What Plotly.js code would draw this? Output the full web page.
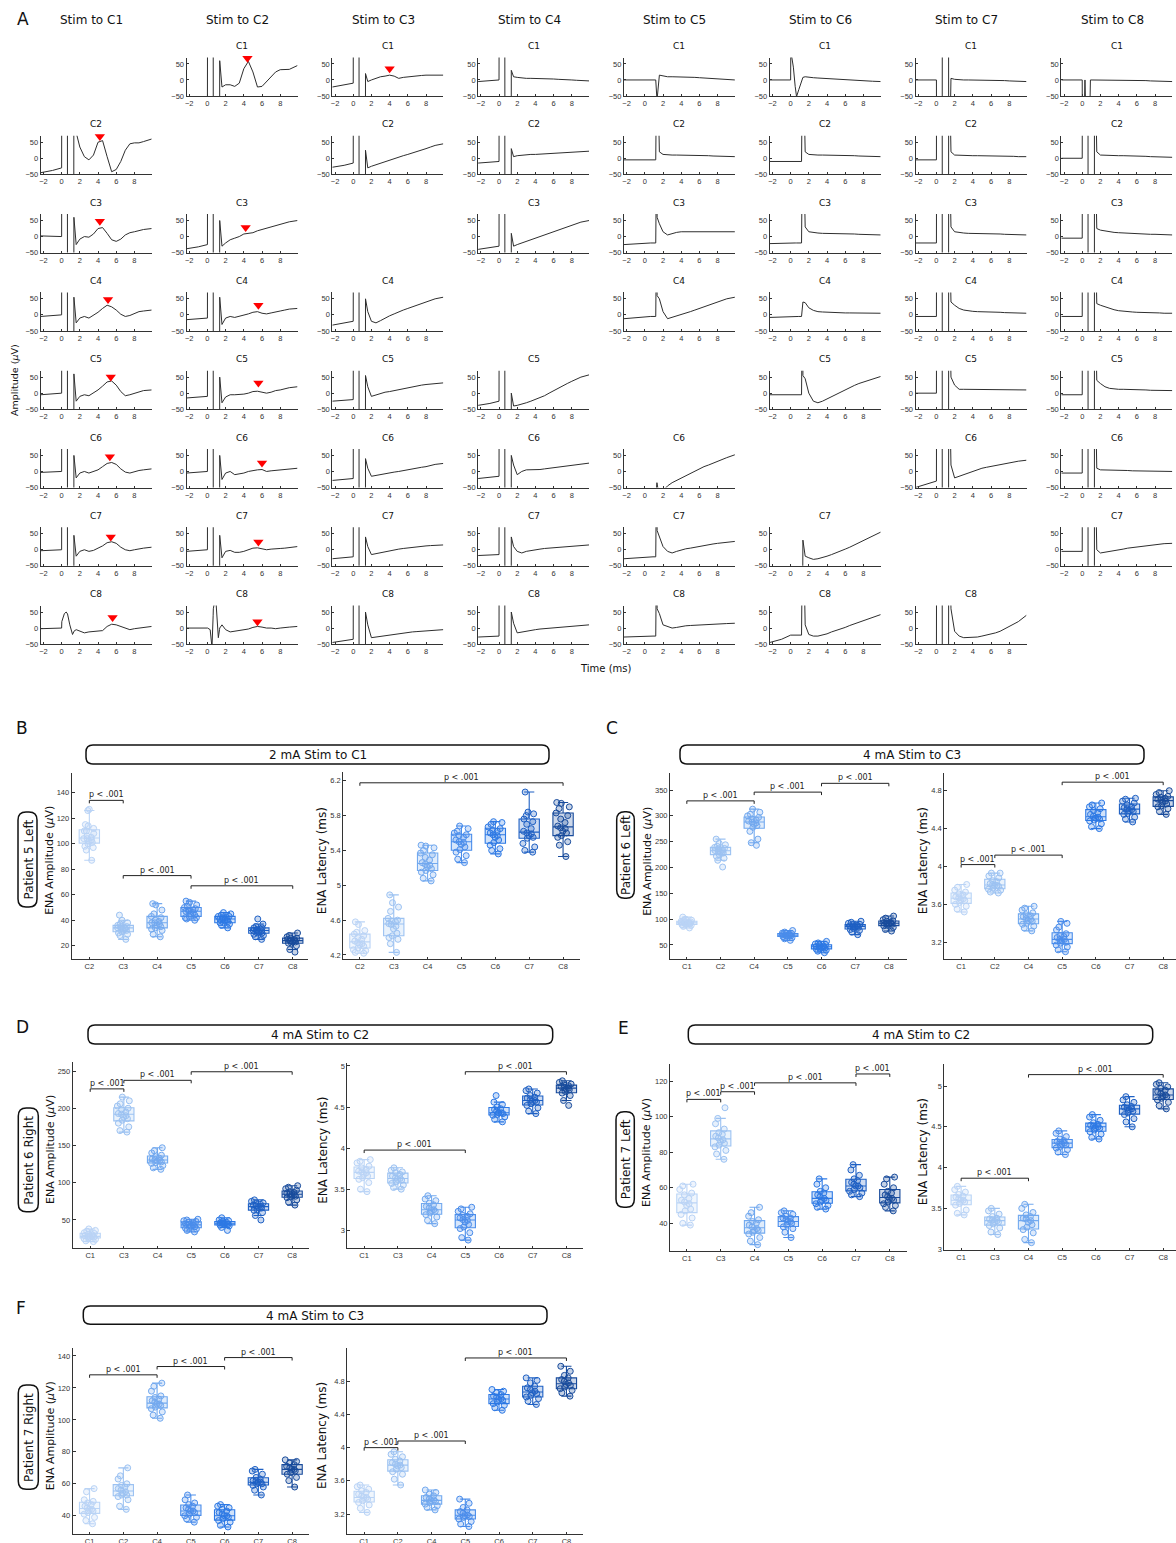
<!DOCTYPE html>
<html><head><meta charset="utf-8">
<script src="https://cdn.plot.ly/plotly-3.0.1.min.js"></script>
<style>body{margin:0;background:#fff}#chart{width:1176px;height:1543px}</style>
</head><body><div id="chart"></div>
<script>
// ---------------- DATA ----------------
const timeGrid = [-2.3,-1,0,0.02,0.3,0.5,0.63,0.65,0.9,1.2,1.33,1.35,1.6,2,2.5,3,3.5,4,4.5,5,5.5,6,6.5,7,7.5,8,8.5,9,9.9];
const stimLabels = ['Stim to C1','Stim to C2','Stim to C3','Stim to C4','Stim to C5','Stim to C6','Stim to C7','Stim to C8'];
const recLabels = ['C1','C2','C3','C4','C5','C6','C7','C8'];

const stimC1 = [null,
 [-45,-38,-30,400,400,400,400,-400,-400,-400,-400,400,80,35,5,-5,10,50,55,5,-42,-35,-10,25,45,48,48,52,60],
 [2,1,0,400,400,400,400,-400,-400,-400,-400,60,-25,-8,0,-2,8,25,28,10,-10,-15,-8,5,12,15,18,22,25],
 [-5,-2,0,400,400,400,400,-400,-400,-400,-400,55,-25,-10,-5,-10,-2,8,20,30,25,15,2,-5,-2,5,10,12,15],
 [-5,-2,0,400,400,400,400,-400,-400,-400,-400,60,-25,-10,-5,-8,0,10,22,35,38,25,5,-8,-5,0,5,8,10],
 [-3,-1,0,400,400,400,400,-400,-400,-400,-400,50,-20,-5,0,-5,0,5,15,25,28,22,8,-2,-5,0,3,5,8],
 [-3,-1,0,400,400,400,400,-400,-400,-400,-400,45,-20,-5,0,-5,-2,5,12,22,25,20,8,0,-3,0,3,5,8],
 [-2,-1,0,20,45,50,45,44,10,-20,-12,-10,-5,-10,-15,-12,-10,-10,-8,5,12,10,5,-2,-5,-2,0,3,5]
];
const stimC2 = [
 [-60,-60,-60,400,400,400,400,-400,-400,-400,-400,60,-22,-15,-15,-20,-10,35,58,25,-22,-20,-5,10,25,32,32,33,45],
 null,
 [-38,-32,-25,400,400,400,400,-400,-400,-400,-400,50,-30,-20,-10,-5,0,8,10,12,18,22,26,30,34,38,42,46,50],
 [-15,-12,-10,400,400,400,400,-400,-400,-400,-400,55,-30,-10,-5,-8,-5,0,3,8,10,5,3,6,10,12,15,18,20],
 [-15,-12,-10,400,400,400,400,-400,-400,-400,-400,50,-30,-12,-5,-5,-5,-3,0,5,6,2,0,3,8,10,14,17,20],
 [-5,-3,0,400,400,400,400,-400,-400,-400,-400,50,-25,-5,0,-10,-8,-5,0,3,5,6,0,2,3,5,6,8,10],
 [-5,-3,0,400,400,400,400,-400,-400,-400,-400,45,-25,-5,-2,-8,-8,-5,0,5,6,3,0,2,2,4,5,7,10],
 [0,0,0,0,-5,-60,40,60,100,-30,-5,0,10,-5,-12,-10,-6,-5,-3,2,5,3,0,0,-2,0,2,3,5]
];
const stimC3 = [
 [-22,-15,-10,400,400,400,400,-400,-400,-400,-400,20,-5,0,5,10,12,15,12,5,8,10,12,13,14,15,15,15,15],
 [-28,-22,-15,400,400,400,400,-400,-400,-400,-400,25,-30,-25,-20,-15,-10,-5,0,3,8,12,16,20,25,30,35,40,45],
 null,
 [-32,-26,-20,400,400,400,400,-400,-400,-400,-400,50,10,-20,-25,-18,-10,-3,3,10,15,20,25,30,35,40,45,50,55],
 [-25,-22,-20,400,400,400,400,-400,-400,-400,-400,55,20,-10,-5,0,3,5,8,12,15,18,20,22,25,27,28,30,32],
 [-28,-25,-22,400,400,400,400,-400,-400,-400,-400,40,10,-15,-12,-10,-8,-5,-2,0,3,6,8,10,13,15,18,22,25],
 [-28,-25,-22,400,400,400,400,-400,-400,-400,-400,40,10,-15,-12,-8,-5,-2,0,2,4,6,8,10,11,12,13,14,15],
 [-45,-40,-35,400,400,400,400,-400,-400,-400,-400,50,10,-30,-28,-25,-22,-20,-18,-16,-15,-14,-12,-11,-10,-9,-8,-6,-5]
];
const stimC4 = [
 [-5,-2,0,400,400,400,400,-400,-400,-400,-400,30,10,8,6,5,5,5,4,4,3,3,2,2,1,0,-1,-2,-3],
 [-15,-12,-10,400,400,400,400,-400,-400,-400,-400,30,5,8,10,10,12,12,13,13,14,15,15,16,17,18,19,20,22],
 [-40,-35,-30,400,400,400,400,-400,-400,-400,-400,10,-30,-25,-20,-15,-10,-5,0,5,10,15,20,25,30,35,40,45,50],
 null,
 [-38,-32,-25,400,400,400,400,-400,-400,-400,-400,0,-40,-38,-35,-30,-25,-20,-15,-8,0,8,15,22,30,37,43,50,57],
 [-22,-18,-15,400,400,400,400,-400,-400,-400,-400,50,20,-10,0,5,5,5,6,8,10,12,14,16,18,20,22,24,26],
 [-18,-16,-15,400,400,400,400,-400,-400,-400,-400,40,10,-5,-10,-5,-2,0,2,4,5,6,8,9,10,11,12,13,15],
 [-28,-26,-25,400,400,400,400,-400,-400,-400,-400,50,15,-15,-12,-10,-8,-5,-3,-2,0,1,2,3,4,5,6,8,10]
];
const stimC5 = [
 [0,0,0,0,0,0,0,0,0,0,-60,-60,15,12,10,10,10,10,10,9,8,7,6,5,4,3,2,1,0],
 [-5,-5,-5,-5,-5,-5,-5,-5,-5,-5,400,400,20,12,10,10,10,10,10,10,9,9,8,8,7,7,6,6,5],
 [-25,-22,-20,-20,-20,-20,-20,-20,-20,-20,400,60,40,15,5,10,13,15,15,15,15,15,15,15,15,15,15,15,15],
 [-12,-8,-5,-5,-5,-5,-5,-5,-5,-5,400,60,50,10,-12,-8,-3,2,6,10,15,20,25,30,35,40,45,50,55],
 null,
 [-80,-80,-80,-80,-80,-80,-80,-80,-80,-80,-35,-80,-80,-60,-45,-35,-28,-20,-12,-5,2,8,15,20,26,32,38,43,52],
 [-28,-25,-22,-22,-22,-22,-22,-22,-22,-22,400,60,40,10,-5,-10,-5,0,3,5,8,10,12,15,18,20,22,24,26],
 [-28,-26,-25,-25,-25,-25,-25,-25,-25,-25,400,60,45,10,5,0,2,5,7,8,9,10,11,12,12,13,13,14,15]
];
const stimC6 = [
 [0,0,0,90,40,-20,-50,-52,-30,0,8,8,10,8,7,6,5,5,4,3,2,1,0,-1,-2,-3,-4,-4,-5],
 [-10,-10,-10,-10,-10,-10,-10,-10,-10,-10,400,400,20,12,10,10,10,10,10,10,9,9,8,8,7,7,6,6,5],
 [-22,-20,-20,-20,-20,-20,-20,-20,-20,-20,400,400,30,15,12,11,10,10,10,10,9,9,8,8,7,7,6,6,5],
 [-8,-6,-5,-5,-5,-5,-5,-5,-5,-5,40,40,38,22,14,10,9,8,8,7,7,6,6,6,5,5,5,5,5],
 [-5,-5,-5,-5,-5,-5,-5,-5,-5,-5,400,55,45,0,-25,-30,-25,-18,-10,-3,5,12,18,24,30,35,40,45,52],
 null,
 [-80,-80,-80,-80,-80,-80,-80,-80,-80,-80,-80,30,-20,-25,-30,-28,-25,-20,-15,-10,-5,2,8,15,22,30,38,45,55],
 [-45,-35,-22,-22,-22,-22,-22,-22,-22,-22,400,400,10,-20,-25,-25,-22,-18,-12,-8,-3,2,8,13,18,24,30,35,42]
];
const stimC7 = [
 [0,0,0,-400,-400,-400,-400,400,400,400,400,-400,5,2,0,0,0,0,0,0,0,-1,-1,-2,-2,-3,-3,-4,-5],
 [-5,-5,-5,400,400,400,400,-400,-400,-400,-400,400,20,10,9,8,8,8,8,8,8,7,7,7,6,6,6,5,5],
 [-20,-20,-20,400,400,400,400,-400,-400,-400,-400,400,30,15,12,11,10,10,10,10,9,9,8,8,7,7,6,6,5],
 [-5,-5,-5,400,400,400,400,-400,-400,-400,-400,400,40,30,20,15,12,11,10,10,9,9,8,8,7,7,6,6,5],
 [0,0,0,400,400,400,400,-400,-400,-400,-400,400,50,25,12,12,12,12,12,12,12,11,11,11,10,10,10,10,10],
 [-50,-40,-30,400,400,400,400,-400,-400,-400,-400,400,20,-20,-15,-8,-3,2,6,10,13,16,18,20,23,26,29,32,35],
 null,
 [-80,-80,-80,400,400,400,400,-400,-400,-400,-400,400,60,-10,-25,-30,-30,-30,-28,-25,-22,-20,-15,-10,-3,5,12,20,40]
];
const stimC8 = [
 [0,0,0,-400,0,-400,-400,-400,0,0,0,0,0,0,0,0,0,0,0,-1,-1,-2,-2,-2,-3,-3,-4,-4,-5],
 [0,0,0,400,400,400,400,-400,-400,-400,-400,400,20,10,9,8,8,8,8,8,7,7,6,6,5,5,4,4,3],
 [-5,-5,-5,400,400,400,400,-400,-400,-400,-400,400,25,20,17,15,13,12,11,10,9,9,8,8,7,7,6,6,5],
 [-5,-5,-5,400,400,400,400,-400,-400,-400,-400,400,35,30,25,20,16,13,11,10,9,8,8,7,7,6,6,5,5],
 [-5,-5,-5,400,400,400,400,-400,-400,-400,-400,400,40,30,20,15,13,12,12,12,11,11,10,10,9,9,8,8,8],
 [-5,-5,-5,400,400,400,400,-400,-400,-400,-400,400,10,5,5,4,4,3,3,3,2,2,2,1,1,1,0,0,0],
 [-5,-5,-5,400,400,400,400,-400,-400,-400,-400,400,0,-10,-8,-5,-3,0,2,5,7,9,11,13,15,16,18,19,20],
 null
];
const stimTraces = [stimC1,stimC2,stimC3,stimC4,stimC5,stimC6,stimC7,stimC8];
// [stim column, recording row, time, amplitude]
const peakMarks = [
 [0,1,4.2,68],[0,2,4.2,48],[0,3,5.1,48],[0,4,5.4,50],[0,5,5.3,46],[0,6,5.4,40],[0,7,5.6,33],
 [1,0,4.4,68],[1,2,4.2,28],[1,3,5.6,30],[1,4,5.6,32],[1,5,6.0,26],[1,6,5.6,24],[1,7,5.5,20],
 [2,0,4.0,35]
];

// Panel B
const bCats = ['C2','C3','C4','C5','C6','C7','C8'];
const bAmp = [
 [87,95,97,98,100,101,102,103,104,104,105,106,108,110,110,112,114,115,126,127],
 [25,28,29,30,31,32,33,33,34,34,34,35,35,36,37,38,40,44],
 [27,29,32,33,34,35,36,37,38,38,39,40,42,43,45,48,52,53],
 [40,41,42,42,43,44,45,46,47,47,48,48,49,50,51,52,54,55],
 [34,36,37,38,38,39,40,40,41,41,42,42,43,43,44,45,46],
 [25,27,28,29,30,30,31,31,32,32,33,33,34,34,35,37,41],
 [15,17,20,22,22,23,23,24,24,25,25,26,26,27,28,30]
];
const bLat = [
 [4.22,4.23,4.25,4.26,4.28,4.30,4.32,4.33,4.34,4.36,4.38,4.40,4.42,4.44,4.46,4.48,4.55,4.58],
 [4.23,4.33,4.38,4.40,4.42,4.45,4.50,4.53,4.55,4.56,4.58,4.59,4.60,4.62,4.70,4.75,4.80,4.89],
 [5.05,5.08,5.12,5.15,5.17,5.19,5.21,5.23,5.24,5.26,5.29,5.32,5.35,5.37,5.40,5.43,5.45,5.46],
 [5.26,5.30,5.34,5.38,5.41,5.44,5.47,5.49,5.50,5.52,5.55,5.57,5.58,5.60,5.62,5.65,5.68],
 [5.36,5.40,5.42,5.46,5.49,5.52,5.55,5.57,5.58,5.60,5.62,5.63,5.65,5.67,5.70,5.72,5.73],
 [5.38,5.40,5.44,5.48,5.54,5.55,5.57,5.59,5.60,5.62,5.65,5.70,5.73,5.76,5.80,5.82,5.84,6.07],
 [5.33,5.46,5.50,5.55,5.57,5.60,5.62,5.65,5.66,5.68,5.72,5.76,5.80,5.83,5.88,5.90,5.94,5.95]
];
const bAmpBrackets = [[0,1,134],[1,3,75],[3,6,67]];
const bLatBrackets = [[0,6,6.176]];

// Panel C
const cCats = ['C1','C2','C4','C5','C6','C7','C8'];
const cAmp = [
 [83,86,88,89,90,91,91,92,93,93,94,95,95,96,97,98,100,104],
 [201,214,218,222,225,228,230,231,232,233,234,236,237,239,241,244,247,255],
 [243,248,255,270,278,281,284,286,288,290,292,294,297,300,303,307,313],
 [59,62,64,66,67,68,68,69,69,70,71,72,72,73,75,78],
 [35,38,40,42,43,44,45,46,47,47,48,50,51,52,54,57],
 [70,75,78,80,82,84,85,86,86,87,88,89,90,92,94,96],
 [77,80,84,87,88,90,91,92,92,93,94,96,97,99,102,106]
];
const cLat = [
 [3.52,3.55,3.58,3.60,3.62,3.64,3.65,3.66,3.67,3.68,3.70,3.71,3.73,3.75,3.78,3.81],
 [3.72,3.73,3.75,3.76,3.77,3.79,3.80,3.80,3.81,3.82,3.84,3.85,3.88,3.90,3.93,3.93],
 [3.32,3.35,3.37,3.39,3.40,3.42,3.43,3.44,3.45,3.47,3.48,3.49,3.51,3.54,3.56,3.58],
 [3.10,3.12,3.15,3.17,3.19,3.20,3.22,3.23,3.23,3.25,3.26,3.27,3.29,3.33,3.36,3.40,3.42],
 [4.40,4.42,4.45,4.48,4.49,4.50,4.51,4.52,4.53,4.55,4.57,4.59,4.61,4.63,4.65,4.67],
 [4.47,4.50,4.52,4.55,4.56,4.58,4.59,4.60,4.61,4.62,4.63,4.65,4.67,4.69,4.71,4.72],
 [4.55,4.58,4.61,4.63,4.64,4.66,4.68,4.69,4.70,4.71,4.72,4.73,4.74,4.76,4.78,4.80]
];
const cAmpBrackets = [[0,2,329],[2,4,346],[4,6,363]];
const cLatBrackets = [[0,1,4.02],[1,3,4.12],[3,6,4.89]];

// Panel D
const dCats = ['C1','C3','C4','C5','C6','C7','C8'];
const dAmp = [
 [21,22,24,25,26,27,27,28,28,29,30,31,32,33,35,36,38],
 [168,170,175,180,184,186,188,190,192,193,195,198,200,203,206,210,215],
 [118,120,123,126,127,128,129,130,131,132,133,135,137,140,143,147],
 [34,36,38,39,40,41,42,43,44,45,46,47,48,49,50,51],
 [36,40,42,43,44,44,45,45,46,46,47,48,49,50,53],
 [50,56,60,63,64,66,67,68,69,70,71,72,73,75,77],
 [70,74,77,80,81,82,83,84,85,86,87,88,90,92,94,96]
];
const dLat = [
 [3.47,3.50,3.58,3.62,3.64,3.66,3.68,3.70,3.71,3.72,3.74,3.76,3.78,3.82,3.84,3.86],
 [3.50,3.52,3.55,3.57,3.59,3.61,3.62,3.63,3.64,3.66,3.68,3.70,3.71,3.73,3.76],
 [3.08,3.12,3.16,3.19,3.21,3.23,3.24,3.25,3.27,3.29,3.31,3.33,3.36,3.38,3.42],
 [2.88,2.91,2.97,3.02,3.04,3.07,3.10,3.12,3.13,3.15,3.17,3.18,3.20,3.23,3.26,3.28],
 [4.32,4.35,4.38,4.40,4.41,4.42,4.43,4.43,4.45,4.47,4.48,4.50,4.53,4.56,4.64],
 [4.42,4.45,4.49,4.52,4.54,4.56,4.57,4.58,4.59,4.61,4.62,4.64,4.67,4.70,4.72],
 [4.52,4.58,4.64,4.67,4.69,4.71,4.72,4.73,4.74,4.75,4.76,4.77,4.78,4.80,4.82]
];
const dAmpBrackets = [[0,1,226],[1,3,237.5],[3,6,249]];
const dLatBrackets = [[0,3,3.976],[3,6,4.93]];

// Panel E
const eCats = ['C1','C3','C4','C5','C6','C7','C8'];
const eAmp = [
 [39,40,43,45,47,48,50,51,52,53,54,56,57,59,61,62],
 [76,79,81,83,84,85,86,87,88,89,90,91,93,96,99,105],
 [28,30,32,34,35,36,36,37,38,39,40,41,42,44,46,49],
 [32,35,37,38,39,40,41,41,42,43,43,44,45,46,47],
 [48,49,50,51,52,53,53,54,55,56,57,58,60,62,65],
 [55,56,57,58,59,60,61,61,62,63,64,65,67,70,73],
 [47,49,50,51,52,53,54,54,55,56,57,58,60,62,65,66]
];
const eLat = [
 [3.42,3.44,3.48,3.54,3.56,3.58,3.60,3.60,3.62,3.64,3.65,3.67,3.70,3.73,3.77],
 [3.18,3.21,3.26,3.29,3.31,3.33,3.34,3.35,3.36,3.37,3.38,3.40,3.43,3.47,3.50],
 [3.08,3.12,3.20,3.24,3.27,3.30,3.33,3.35,3.37,3.38,3.40,3.42,3.45,3.50,3.55],
 [4.16,4.19,4.22,4.24,4.26,4.28,4.29,4.30,4.31,4.32,4.33,4.35,4.38,4.42,4.45],
 [4.35,4.37,4.41,4.44,4.46,4.48,4.49,4.50,4.51,4.52,4.53,4.55,4.58,4.62,4.65],
 [4.50,4.56,4.60,4.65,4.67,4.69,4.71,4.72,4.73,4.74,4.75,4.77,4.80,4.83,4.87],
 [4.72,4.76,4.80,4.83,4.85,4.87,4.88,4.89,4.91,4.93,4.95,4.97,4.99,5.02,5.04]
];
const eAmpBrackets = [[0,1,109.7],[1,2,114],[2,5,119],[5,6,124]];
const eLatBrackets = [[0,2,3.87],[2,6,5.14]];

// Panel F
const fCats = ['C1','C2','C4','C5','C6','C7','C8'];
const fAmp = [
 [35,37,39,41,42,43,44,44,45,46,47,48,49,50,55,57],
 [44,46,50,52,53,53,54,55,56,57,58,59,60,63,65,70],
 [101,103,105,107,108,109,110,110,111,112,113,114,115,118,121,123],
 [36,38,39,40,41,42,43,43,44,45,46,47,48,50,53],
 [33,34,36,37,38,39,40,40,41,42,43,44,45,46,47],
 [53,56,58,59,60,60,61,61,62,62,63,64,66,68,69],
 [58,62,64,66,67,68,69,69,70,71,72,73,74,75]
];
const fLat = [
 [3.22,3.27,3.31,3.34,3.36,3.38,3.40,3.40,3.42,3.44,3.46,3.48,3.50,3.53,3.55],
 [3.55,3.62,3.68,3.71,3.74,3.76,3.78,3.79,3.80,3.82,3.84,3.86,3.89,3.92,3.95],
 [3.25,3.28,3.30,3.32,3.34,3.35,3.36,3.37,3.38,3.40,3.42,3.44,3.46,3.49],
 [3.05,3.08,3.11,3.14,3.16,3.17,3.18,3.19,3.21,3.23,3.25,3.28,3.33,3.38],
 [4.45,4.48,4.51,4.53,4.55,4.57,4.58,4.59,4.61,4.62,4.64,4.66,4.68,4.70],
 [4.52,4.56,4.59,4.61,4.63,4.65,4.66,4.68,4.70,4.72,4.74,4.78,4.81,4.84],
 [4.62,4.66,4.69,4.71,4.73,4.75,4.76,4.78,4.80,4.82,4.84,4.87,4.92,4.98]
];
const fAmpBrackets = [[0,2,128.2],[2,4,133.4],[4,6,139]];
const fLatBrackets = [[0,1,4.0],[1,3,4.08],[3,6,5.08]];

const panelLetters = ['B','C','D','E','F'];
const stimTitles = ['2 mA Stim to C1','4 mA Stim to C3','4 mA Stim to C2','4 mA Stim to C2','4 mA Stim to C3'];
const patientLabels = ['Patient 5 Left','Patient 6 Left','Patient 6 Right','Patient 7 Left','Patient 7 Right'];
const boxColors = ['#bad4f6','#9cc2f2','#72a9ef','#4a8deb','#2d79e5','#1e60c4','#184b9c'];

// ---------------- BUILD ----------------
const W = 1176, H = 1543;
const layout = {width:W, height:H, margin:{l:0,r:0,t:0,b:0}, paper_bgcolor:'#ffffff', plot_bgcolor:'rgba(0,0,0,0)',
  showlegend:false, font:{family:'DejaVu Sans', color:'#222'}, shapes:[], annotations:[], boxmode:'overlay'};
const data = [];
const axBase = {showgrid:false, zeroline:false, showline:true, linecolor:'#333', linewidth:1, ticks:'inside', ticklen:2,
  tickcolor:'#333', tickfont:{family:'Liberation Sans', size:7.5, color:'#333'}, fixedrange:true};
let axN = 0;
function addAxes(xp, yp, xo, yo){
  axN++; const s = axN===1 ? '' : String(axN);
  layout['xaxis'+s] = Object.assign({}, axBase, {domain:[xp[0]/W, xp[1]/W], anchor:'y'+s}, xo);
  layout['yaxis'+s] = Object.assign({}, axBase, {domain:[1-yp[1]/H, 1-yp[0]/H], anchor:'x'+s}, yo);
  return {x:'x'+s, y:'y'+s};
}
function ann(px, py, text, size, opts){
  layout.annotations.push(Object.assign({xref:'paper', yref:'paper', x:px/W, y:1-py/H, text:text, showarrow:false,
    xanchor:'center', yanchor:'middle', font:{size:size, color:'#111'}}, opts||{}));
}
function rrPath(x0,y0,x1,y1,r){
  const X=v=>(v/W).toFixed(5), Y=v=>(1-v/H).toFixed(5);
  return `M${X(x0+r)},${Y(y0)} L${X(x1-r)},${Y(y0)} Q${X(x1)},${Y(y0)} ${X(x1)},${Y(y0+r)} L${X(x1)},${Y(y1-r)} Q${X(x1)},${Y(y1)} ${X(x1-r)},${Y(y1)} L${X(x0+r)},${Y(y1)} Q${X(x0)},${Y(y1)} ${X(x0)},${Y(y1-r)} L${X(x0)},${Y(y0+r)} Q${X(x0)},${Y(y0)} ${X(x0+r)},${Y(y0)} Z`;
}
function hexRgba(h,a){const n=parseInt(h.slice(1),16);return `rgba(${(n>>16)&255},${(n>>8)&255},${n&255},${a})`;}

// Panel A
ann(23, 19, 'A', 17);
const axMap = [];
for (let c=0;c<8;c++){
  axMap.push([]);
  const xL = 40.7 + 145.8*c;
  ann(xL+51, 20, stimLabels[c], 12);
  for (let r=0;r<8;r++){
    const tr = stimTraces[c][r];
    if (!tr){ axMap[c].push(null); continue; }
    const yT = 57.5 + 78.3*r;
    const ax = addAxes([xL, xL+111], [yT, yT+38.5],
      {range:[-2.3,9.9], tickvals:[-2,0,2,4,6,8]},
      {range:[-50,70], tickvals:[-50,0,50]});
    axMap[c].push(ax);
    data.push({type:'scatter', mode:'lines', x:timeGrid, y:tr, xaxis:ax.x, yaxis:ax.y,
      line:{color:'#2e2e2e', width:1}, hoverinfo:'skip', showlegend:false});
    ann(xL+55.5, yT-11.5, recLabels[r], 9);
  }
}
peakMarks.forEach(m=>{
  const ax = axMap[m[0]][m[1]];
  data.push({type:'scatter', mode:'markers', x:[m[2]], y:[m[3]], xaxis:ax.x, yaxis:ax.y, cliponaxis:false,
    marker:{symbol:'triangle-down', size:9, color:'#ff0000'}, hoverinfo:'skip', showlegend:false});
});
ann(14, 380, 'Amplitude (<i>μ</i>V)', 9.5, {textangle:-90});
ann(606, 668, 'Time (ms)', 10);

// Box panels
const panels = [
 {lp:[22,727.5], tb:[86,745,549,764], pb:[18,812,37,907], cats:bCats,
  amp:{d:bAmp, br:bAmpBrackets, x:[71.7,308], y:[772.7,959], xr:[-0.52,6.45], yr:[9.6,155.7], tv:[20,40,60,80,100,120,140], tx:50},
  lat:{d:bLat, br:bLatBrackets, x:[343.3,580], y:[772,959], xr:[-0.49,6.5], yr:[4.154,6.3], tv:[4.2,4.6,5,5.4,5.8,6.2], tx:321.7}},
 {lp:[612,727.5], tb:[680,745,1144,764], pb:[616.7,811.7,634.3,898.3], cats:cCats,
  amp:{d:cAmp, br:cAmpBrackets, x:[670,906.7], y:[773,959.3], xr:[-0.5,6.53], yr:[22.3,383], tv:[50,100,150,200,250,300,350], tx:646.7},
  lat:{d:cLat, br:cLatBrackets, x:[944.3,1176], y:[772.7,959.3], xr:[-0.5,6.38], yr:[3.02,4.99], tv:[3.2,3.6,4,4.4,4.8], tx:923.3}},
 {lp:[22,1026.5], tb:[88,1025,552.7,1044], pb:[18.3,1108,38.3,1211.7], cats:dCats,
  amp:{d:dAmp, br:dAmpBrackets, x:[72.7,309], y:[1061.7,1248.3], xr:[-0.52,6.5], yr:[12,262.5], tv:[50,100,150,200,250], tx:50},
  lat:{d:dLat, br:dLatBrackets, x:[347.3,583.3], y:[1062.7,1248.3], xr:[-0.5,6.5], yr:[2.78,5.04], tv:[3,3.5,4,4.5,5], tx:322.3}},
 {lp:[623,1027.5], tb:[688.3,1025,1152.7,1044], pb:[616,1111.7,634.3,1207.3], cats:eCats,
  amp:{d:eAmp, br:eAmpBrackets, x:[670,906.7], y:[1064,1250.7], xr:[-0.5,6.5], yr:[24.6,129.6], tv:[40,60,80,100,120], tx:646.7},
  lat:{d:eLat, br:eLatBrackets, x:[944.3,1176], y:[1064,1250], xr:[-0.5,6.38], yr:[2.99,5.27], tv:[3,3.5,4,4.5,5], tx:923.3}},
 {lp:[21,1308], tb:[83.3,1306,547,1324.3], pb:[18.3,1385,38.3,1489.3], cats:fCats,
  amp:{d:fAmp, br:fAmpBrackets, x:[72.7,309], y:[1348.3,1534.3], xr:[-0.5,6.5], yr:[28.4,144.8], tv:[40,60,80,100,120,140], tx:50},
  lat:{d:fLat, br:fLatBrackets, x:[347.3,583.3], y:[1348,1534], xr:[-0.5,6.5], yr:[2.96,5.2], tv:[3.2,3.6,4,4.4,4.8], tx:322}}
];

panels.forEach((p, pi)=>{
  ann(p.lp[0], p.lp[1], panelLetters[pi], 17);
  layout.shapes.push({type:'path', xref:'paper', yref:'paper', path:rrPath(p.tb[0],p.tb[1],p.tb[2],p.tb[3],7), line:{color:'#111', width:1.5}});
  ann((p.tb[0]+p.tb[2])/2, (p.tb[1]+p.tb[3])/2+0.5, stimTitles[pi], 12);
  layout.shapes.push({type:'path', xref:'paper', yref:'paper', path:rrPath(p.pb[0],p.pb[1],p.pb[2],p.pb[3],8), line:{color:'#111', width:1.5}});
  ann((p.pb[0]+p.pb[2])/2+0.5, (p.pb[1]+p.pb[3])/2, patientLabels[pi], 12, {textangle:-90});
  ['amp','lat'].forEach(k=>{
    const s = p[k];
    const ax = addAxes(s.x, s.y,
      {range:s.xr, tickvals:[0,1,2,3,4,5,6], ticktext:p.cats},
      {range:s.yr, tickvals:s.tv, ticklen:3});
    s.d.forEach((vals,i)=>{
      const col = boxColors[i];
      data.push({type:'box', y:vals, x0:i, xaxis:ax.x, yaxis:ax.y, name:p.cats[i], boxpoints:'all', jitter:0.75, pointpos:0,
        width:0.6, whiskerwidth:0.5, fillcolor:hexRgba(col,0.22), line:{color:col, width:1.1},
        marker:{symbol:'circle', size:6, color:hexRgba(col,0.25), line:{color:col, width:1}},
        hoverinfo:'skip', showlegend:false});
    });
    const dd = 0.016*(s.yr[1]-s.yr[0]);
    s.br.forEach(b=>{
      layout.shapes.push({type:'path', xref:ax.x, yref:ax.y, path:`M${b[0]},${b[2]-dd} L${b[0]},${b[2]} L${b[1]},${b[2]} L${b[1]},${b[2]-dd}`,
        line:{color:'#222', width:1}});
      layout.annotations.push({xref:ax.x, yref:ax.y, x:(b[0]+b[1])/2, y:b[2], yanchor:'bottom', xanchor:'center', yshift:-1,
        text:'p < .001', showarrow:false, font:{size:8, color:'#222'}});
    });
    const cy = (s.y[0]+s.y[1])/2 - 5;
    if (k==='amp') ann(s.tx, cy, 'ENA Amplitude (<i>μ</i>V)', 11, {textangle:-90});
    else ann(s.tx, cy, 'ENA Latency (ms)', 12, {textangle:-90});
  });
});

Plotly.newPlot('chart', data, layout, {staticPlot:true, displayModeBar:false});
</script></body></html>
